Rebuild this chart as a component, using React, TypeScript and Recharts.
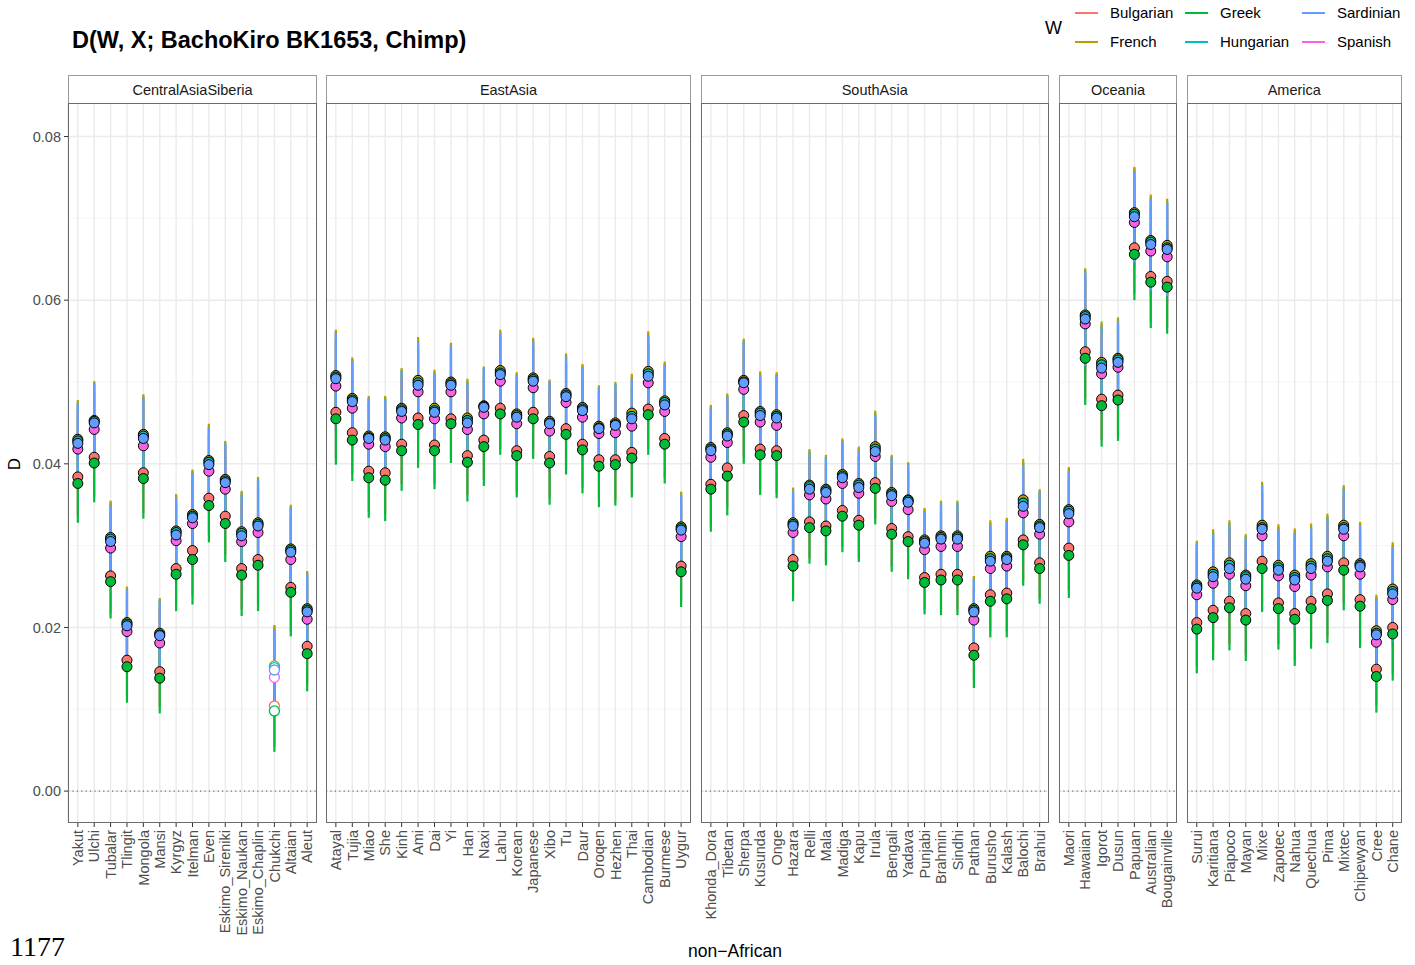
import React from 'react';
import { ComposedChart, Line, XAxis, YAxis, CartesianGrid, ErrorBar, ReferenceLine } from 'recharts';

// ---------- data ----------
const centralAsiaSiberia = ['Yakut', 'Ulchi', 'Tubalar', 'Tlingit', 'Mongola', 'Mansi', 'Kyrgyz', 'Itelman', 'Even', 'Eskimo_Sireniki', 'Eskimo_Naukan', 'Eskimo_Chaplin', 'Chukchi', 'Altaian', 'Aleut'];
const eastAsia = ['Atayal', 'Tujia', 'Miao', 'She', 'Kinh', 'Ami', 'Dai', 'Yi', 'Han', 'Naxi', 'Lahu', 'Korean', 'Japanese', 'Xibo', 'Tu', 'Daur', 'Oroqen', 'Hezhen', 'Thai', 'Cambodian', 'Burmese', 'Uygur'];
const southAsia = ['Khonda_Dora', 'Tibetan', 'Sherpa', 'Kusunda', 'Onge', 'Hazara', 'Relli', 'Mala', 'Madiga', 'Kapu', 'Irula', 'Bengali', 'Yadava', 'Punjabi', 'Brahmin', 'Sindhi', 'Pathan', 'Burusho', 'Kalash', 'Balochi', 'Brahui'];
const oceania = ['Maori', 'Hawaiian', 'Igorot', 'Dusun', 'Papuan', 'Australian', 'Bougainville'];
const america = ['Surui', 'Karitiana', 'Piapoco', 'Mayan', 'Mixe', 'Zapotec', 'Nahua', 'Quechua', 'Pima', 'Mixtec', 'Chipewyan', 'Cree', 'Chane'];

const regionNames = ['CentralAsiaSiberia', 'EastAsia', 'SouthAsia', 'Oceania', 'America'];
const regionPops = [centralAsiaSiberia, eastAsia, southAsia, oceania, america];

const french = [
  0.0430, 0.0453, 0.0310, 0.0206, 0.0436, 0.0193, 0.0318, 0.0338, 0.0404, 0.0381, 0.0317, 0.0328, 0.0153, 0.0296, 0.0223,
  0.0508, 0.0480, 0.0434, 0.0433, 0.0468, 0.0502, 0.0468, 0.0500, 0.0456, 0.0471, 0.0514, 0.0461, 0.0505, 0.0452, 0.0486, 0.0469, 0.0446, 0.0450, 0.0462, 0.0513, 0.0477, 0.0323,
  0.0420, 0.0438, 0.0502, 0.0464, 0.0460, 0.0328, 0.0374, 0.0369, 0.0387, 0.0376, 0.0421, 0.0365, 0.0356, 0.0307, 0.0312, 0.0312, 0.0223, 0.0287, 0.0287, 0.0356, 0.0326,
  0.0344, 0.0582, 0.0524, 0.0529, 0.0707, 0.0673, 0.0667,
  0.0252, 0.0268, 0.0279, 0.0264, 0.0325, 0.0276, 0.0264, 0.0278, 0.0287, 0.0325, 0.0278, 0.0196, 0.0247,
];
const hungarian = [
  0.0428, 0.0452, 0.0308, 0.0204, 0.0434, 0.0191, 0.0316, 0.0336, 0.0402, 0.0379, 0.0315, 0.0326, 0.0151, 0.0294, 0.0221,
  0.0506, 0.0478, 0.0432, 0.0431, 0.0466, 0.0499, 0.0465, 0.0498, 0.0453, 0.0470, 0.0511, 0.0459, 0.0503, 0.0450, 0.0484, 0.0467, 0.0444, 0.0448, 0.0458, 0.0510, 0.0475, 0.0321,
  0.0418, 0.0436, 0.0500, 0.0462, 0.0458, 0.0326, 0.0372, 0.0367, 0.0385, 0.0374, 0.0418, 0.0363, 0.0355, 0.0305, 0.0310, 0.0310, 0.0221, 0.0284, 0.0285, 0.0352, 0.0324,
  0.0342, 0.0580, 0.0521, 0.0527, 0.0705, 0.0671, 0.0664,
  0.0250, 0.0265, 0.0276, 0.0262, 0.0322, 0.0273, 0.0261, 0.0275, 0.0284, 0.0322, 0.0276, 0.0193, 0.0244,
];
const sardinian = [
  0.0425, 0.0450, 0.0305, 0.0202, 0.0431, 0.0190, 0.0313, 0.0334, 0.0399, 0.0377, 0.0312, 0.0324, 0.0148, 0.0292, 0.0219,
  0.0504, 0.0476, 0.0431, 0.0429, 0.0464, 0.0496, 0.0463, 0.0496, 0.0450, 0.0469, 0.0509, 0.0457, 0.0501, 0.0449, 0.0482, 0.0465, 0.0443, 0.0447, 0.0455, 0.0507, 0.0472, 0.0319,
  0.0416, 0.0434, 0.0499, 0.0459, 0.0456, 0.0324, 0.0369, 0.0365, 0.0383, 0.0371, 0.0415, 0.0361, 0.0353, 0.0303, 0.0308, 0.0308, 0.0219, 0.0281, 0.0283, 0.0348, 0.0322,
  0.0339, 0.0577, 0.0517, 0.0524, 0.0702, 0.0668, 0.0662,
  0.0248, 0.0262, 0.0272, 0.0259, 0.0320, 0.0270, 0.0258, 0.0272, 0.0281, 0.0320, 0.0274, 0.0191, 0.0241,
];
const spanish = [
  0.0418, 0.0442, 0.0297, 0.0195, 0.0422, 0.0181, 0.0306, 0.0327, 0.0391, 0.0369, 0.0305, 0.0316, 0.0139, 0.0283, 0.0210,
  0.0495, 0.0468, 0.0424, 0.0421, 0.0456, 0.0488, 0.0455, 0.0488, 0.0442, 0.0461, 0.0501, 0.0449, 0.0493, 0.0440, 0.0475, 0.0457, 0.0437, 0.0438, 0.0446, 0.0499, 0.0464, 0.0311,
  0.0408, 0.0426, 0.0491, 0.0451, 0.0447, 0.0316, 0.0362, 0.0357, 0.0376, 0.0364, 0.0409, 0.0354, 0.0344, 0.0295, 0.0299, 0.0299, 0.0209, 0.0272, 0.0275, 0.0340, 0.0314,
  0.0329, 0.0571, 0.0510, 0.0518, 0.0695, 0.0660, 0.0653,
  0.0240, 0.0254, 0.0265, 0.0251, 0.0312, 0.0263, 0.0250, 0.0264, 0.0274, 0.0312, 0.0265, 0.0182, 0.0234,
];
const bulgarian = [
  0.0384, 0.0408, 0.0263, 0.0160, 0.0389, 0.0146, 0.0272, 0.0294, 0.0358, 0.0336, 0.0272, 0.0283, 0.0104, 0.0249, 0.0177,
  0.0463, 0.0438, 0.0391, 0.0389, 0.0424, 0.0456, 0.0423, 0.0455, 0.0410, 0.0429, 0.0468, 0.0416, 0.0463, 0.0409, 0.0443, 0.0424, 0.0405, 0.0405, 0.0414, 0.0467, 0.0431, 0.0275,
  0.0375, 0.0395, 0.0459, 0.0418, 0.0416, 0.0283, 0.0329, 0.0324, 0.0343, 0.0331, 0.0377, 0.0321, 0.0311, 0.0261, 0.0265, 0.0265, 0.0175, 0.0240, 0.0242, 0.0307, 0.0279,
  0.0297, 0.0537, 0.0479, 0.0484, 0.0664, 0.0629, 0.0623,
  0.0206, 0.0221, 0.0232, 0.0217, 0.0281, 0.0230, 0.0217, 0.0232, 0.0241, 0.0279, 0.0234, 0.0149, 0.0200,
];
const greek = [
  0.0376, 0.0401, 0.0256, 0.0152, 0.0382, 0.0138, 0.0265, 0.0283, 0.0349, 0.0327, 0.0264, 0.0276, 0.0098, 0.0243, 0.0168,
  0.0455, 0.0429, 0.0383, 0.0380, 0.0416, 0.0448, 0.0416, 0.0449, 0.0402, 0.0421, 0.0461, 0.0410, 0.0455, 0.0401, 0.0436, 0.0417, 0.0397, 0.0399, 0.0407, 0.0460, 0.0424, 0.0268,
  0.0369, 0.0385, 0.0451, 0.0411, 0.0410, 0.0275, 0.0322, 0.0318, 0.0336, 0.0325, 0.0370, 0.0314, 0.0305, 0.0255, 0.0258, 0.0258, 0.0166, 0.0232, 0.0235, 0.0301, 0.0272,
  0.0288, 0.0529, 0.0471, 0.0478, 0.0656, 0.0622, 0.0616,
  0.0198, 0.0212, 0.0224, 0.0209, 0.0272, 0.0223, 0.0210, 0.0223, 0.0233, 0.0270, 0.0226, 0.0140, 0.0192,
];
const stdErr = [
  0.0048, 0.0048, 0.0045, 0.0044, 0.0049, 0.0043, 0.0045, 0.0055, 0.0045, 0.0047, 0.0050, 0.0056, 0.0050, 0.0054, 0.0046,
  0.0056, 0.0050, 0.0049, 0.0050, 0.0049, 0.0053, 0.0047, 0.0048, 0.0048, 0.0048, 0.0050, 0.0051, 0.0049, 0.0051, 0.0049, 0.0053, 0.0050, 0.0050, 0.0048, 0.0049, 0.0048, 0.0043,
  0.0052, 0.0048, 0.0051, 0.0049, 0.0052, 0.0043, 0.0044, 0.0042, 0.0044, 0.0045, 0.0044, 0.0046, 0.0046, 0.0039, 0.0043, 0.0043, 0.0040, 0.0044, 0.0047, 0.0050, 0.0043,
  0.0052, 0.0057, 0.0050, 0.0050, 0.0056, 0.0056, 0.0057,
  0.0054, 0.0052, 0.0052, 0.0050, 0.0053, 0.0050, 0.0057, 0.0049, 0.0052, 0.0049, 0.0051, 0.0044, 0.0057,
];

const seriesNames = ['Bulgarian', 'French', 'Greek', 'Hungarian', 'Sardinian', 'Spanish'];
const seriesValues: Record<string, number[]> = {
  Bulgarian: bulgarian, French: french, Greek: greek, Hungarian: hungarian, Sardinian: sardinian, Spanish: spanish,
};
const hollowPops = ['Chukchi'];
const yTicks = [0, 0.02, 0.04, 0.06, 0.08];
const yMinorTicks = [0.01, 0.03, 0.05, 0.07];

// ---------- styling / layout ----------
const seriesColors: Record<string, string> = {
  Bulgarian: '#F8766D', French: '#B79F00', Greek: '#00BA38', Hungarian: '#00BFC4', Sardinian: '#619CFF', Spanish: '#F564E3',
};
const errorOrder = ['Bulgarian', 'Hungarian', 'Spanish', 'French', 'Greek', 'Sardinian'];
const dotOrder = ['Bulgarian', 'Greek', 'French', 'Hungarian', 'Spanish', 'Sardinian'];

const FONT = '"Liberation Sans", Arial, Helvetica, sans-serif';
const panelLeft = [68, 326, 700.5, 1059, 1186.5];
const panelWidth = [249, 365, 348.5, 118, 215.5];
const PLOT_TOP = 103;
const PLOT_H = 720;
const XAXIS_H = 130;
const YAXIS_W = 50;
const STRIP_TOP = 75;
const Y_DOMAIN: [number, number] = [-0.0039, 0.0841];

let offset = 0;
const panelRows = regionPops.map((pops) => {
  const start = offset;
  offset += pops.length;
  return pops.map((pop, i) => {
    const row: Record<string, any> = { pop, se: stdErr[start + i] };
    seriesNames.forEach((s) => { row[s] = seriesValues[s][start + i]; });
    return row;
  });
});

const XTick = (props: any) => {
  const { x, y, payload } = props;
  return (
    <g transform={`translate(${x},${y + 1})`}>
      <text transform="rotate(-90)" textAnchor="end" dy="0.36em" fontSize={14.5} fill="#4d4d4d" fontFamily={FONT}>
        {payload.value}
      </text>
    </g>
  );
};

const makeDot = (name: string) => (p: any) => {
  const hollow = hollowPops.includes(p.payload?.pop);
  return (
    <circle
      key={`${name}-${p.index}`}
      cx={p.cx}
      cy={p.cy}
      r={5}
      fill={hollow ? '#ffffff' : seriesColors[name]}
      stroke={hollow ? seriesColors[name] : '#000000'}
      strokeWidth={hollow ? 1.3 : 1}
    />
  );
};

const Panel = ({ r }: { r: number }) => {
  const rows = panelRows[r];
  const n = rows.length;
  const pad = (panelWidth[r] * 0.6) / (n + 0.2);
  const first = r === 0;
  const w = panelWidth[r] + (first ? YAXIS_W : 0);
  return (
    <div style={{ position: 'absolute', left: first ? panelLeft[r] - YAXIS_W : panelLeft[r], top: PLOT_TOP }}>
      <ComposedChart width={w} height={PLOT_H + XAXIS_H} data={rows} margin={{ top: 0, right: 0, bottom: 0, left: 0 }}>
        <CartesianGrid horizontalValues={yMinorTicks} vertical={false} stroke="#f4f4f4" strokeWidth={0.8} />
        <CartesianGrid horizontalValues={yTicks} stroke="#ebebeb" strokeWidth={1.4} />
        <XAxis
          dataKey="pop"
          type="category"
          scale="point"
          interval={0}
          padding={{ left: pad, right: pad }}
          height={XAXIS_H}
          axisLine={false}
          tickLine={{ stroke: '#333333' }}
          tickSize={4}
          tickMargin={2}
          tick={<XTick />}
        />
        <YAxis
          type="number"
          domain={Y_DOMAIN}
          allowDataOverflow
          ticks={yTicks}
          hide={!first}
          width={YAXIS_W}
          axisLine={false}
          tickLine={{ stroke: '#333333' }}
          tickSize={4}
          tickMargin={3}
          tickFormatter={(v: number) => v.toFixed(2)}
          tick={{ fontSize: 14.5, fill: '#4d4d4d', fontFamily: FONT }}
        />
        <ReferenceLine y={0} stroke="#6f6f6f" strokeWidth={1.2} strokeDasharray="1.2 3.2" />
        {errorOrder.map((s) => (
          <Line key={`err-${s}`} dataKey={s} stroke="none" dot={false} activeDot={false} isAnimationActive={false} legendType="none">
            <ErrorBar dataKey="se" direction="y" width={0} stroke={seriesColors[s]} strokeWidth={2.2} isAnimationActive={false} />
          </Line>
        ))}
        {dotOrder.map((s) => (
          <Line key={`dot-${s}`} dataKey={s} stroke="none" dot={makeDot(s)} activeDot={false} isAnimationActive={false} legendType="none" />
        ))}
      </ComposedChart>
    </div>
  );
};

const legendCols = [
  { x: 1075, items: ['Bulgarian', 'French'] },
  { x: 1185, items: ['Greek', 'Hungarian'] },
  { x: 1302, items: ['Sardinian', 'Spanish'] },
];
const legendRowY = [13, 42];

export default function App() {
  return (
    <div style={{ position: 'absolute', left: 0, top: 0, width: 1415, height: 965, background: '#ffffff', fontFamily: FONT, overflow: 'hidden' }}>
      <div style={{ position: 'absolute', left: 72, top: 27, fontSize: 23.5, fontWeight: 'bold', color: '#000', whiteSpace: 'nowrap', lineHeight: '26px' }}>
        D(W, X; BachoKiro BK1653, Chimp)
      </div>

      {/* legend */}
      <div style={{ position: 'absolute', left: 1045, top: 17, fontSize: 18, color: '#000', lineHeight: '22px' }}>W</div>
      {legendCols.map((col) =>
        col.items.map((name, j) => (
          <React.Fragment key={name}>
            <div style={{ position: 'absolute', left: col.x, top: legendRowY[j] - 1, width: 23, height: 2, background: seriesColors[name] }} />
            <div style={{ position: 'absolute', left: col.x + 35, top: legendRowY[j] - 10, fontSize: 15, lineHeight: '20px', color: '#000', whiteSpace: 'nowrap' }}>{name}</div>
          </React.Fragment>
        ))
      )}

      {/* strips */}
      {regionNames.map((name, r) => (
        <div key={name} style={{ position: 'absolute', left: panelLeft[r], top: STRIP_TOP, width: panelWidth[r], height: PLOT_TOP - STRIP_TOP, boxSizing: 'border-box', border: '1px solid #9a9a9a', borderBottom: 'none', display: 'flex', alignItems: 'center', justifyContent: 'center', fontSize: 14.5, color: '#1a1a1a' }}>
          {name}
        </div>
      ))}

      {regionNames.map((name, r) => <Panel key={name} r={r} />)}

      {/* panel borders */}
      {regionNames.map((name, r) => (
        <div key={`b-${name}`} style={{ position: 'absolute', left: panelLeft[r], top: PLOT_TOP, width: panelWidth[r], height: PLOT_H, boxSizing: 'border-box', border: '1px solid #6a6a6a', pointerEvents: 'none' }} />
      ))}

      {/* axis titles */}
      <div style={{ position: 'absolute', left: 5, top: 452, width: 20, height: 24, fontSize: 17, lineHeight: '24px', textAlign: 'center', transform: 'rotate(-90deg)', color: '#000' }}>D</div>
      <div style={{ position: 'absolute', left: 635, top: 940, width: 200, fontSize: 17.5, lineHeight: '22px', textAlign: 'center', color: '#000' }}>non−African</div>

      <div style={{ position: 'absolute', left: 10, top: 932, fontSize: 28, fontFamily: '"Liberation Serif", "Times New Roman", serif', color: '#000', lineHeight: '30px' }}>1177</div>
    </div>
  );
}
